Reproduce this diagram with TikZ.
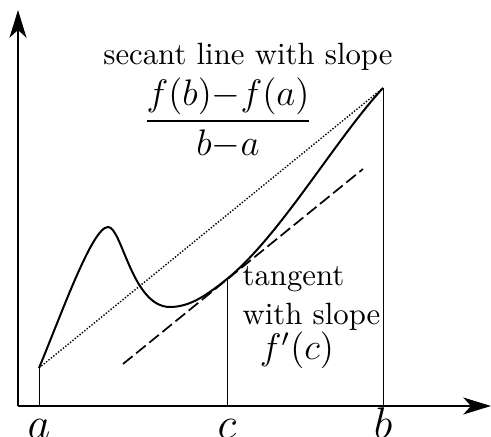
\documentclass[tikz,border=0pt]{standalone}
\usepackage{amsmath}
\usepackage{tikz}
\usetikzlibrary{arrows.meta}

\begin{document}
\begin{tikzpicture}[x=0.325pt, y=-0.325pt]

\tikzset{axis/.style = {-{Stealth[length=9pt,width=5.5pt,inset=2.5pt]}, line width=0.65pt}}
\tikzset{graph/.style = {line width=0.65pt}}
\tikzset{drop/.style = {line width=0.3pt}}
\tikzset{secant/.style = {line width=0.45pt, dash pattern=on 0.45pt off 0.55pt}}
\tikzset{tangentline/.style = {line width=0.55pt, dash pattern=on 4pt off 1.5pt}}
\tikzset{ticklabel/.style = {font=\Large, anchor=base, inner sep=0pt}}

\useasboundingbox (0,0) rectangle (491,437);

% points
\coordinate (O) at (18,406);
\coordinate (ytip) at (18,10);
\coordinate (xtip) at (491,406);
\coordinate (A) at (39,368);
\coordinate (P) at (108,227);
\coordinate (M) at (170,307);
\coordinate (C) at (227,279);
\coordinate (B) at (383,88);
\coordinate (T1) at (123,364);
\coordinate (T2) at (363,169);

% axes
\draw[axis] (O) -- (ytip);
\draw[axis] (O) -- (xtip);

% drop lines
\draw[drop] (A) -- (A |- O);
\draw[drop] (C) -- (C |- O);
\draw[drop] (B) -- (B |- O);

% secant and tangent
\draw[secant] (A) -- (B);
\draw[tangentline] (T1) -- (T2);

% the function
\draw[graph] (A) .. controls (60,318) and (92,227) .. (P)
  .. controls (122,227) and (132,307) .. (M)
  .. controls (190,307) and (207,295) .. (C)
  .. controls (280,236) and (335,140) .. (B);

% labels
\node[ticklabel] (la) at (39,439) {$a$};
\node[ticklabel] (lc) at (227,439) {$c$};
\node[ticklabel] (lb) at (383,439) {$b$};
\node[anchor=base] (sectext) at (248,65) {secant line with slope};
\node[font=\large, inner sep=0pt] (secslope) at (228,118) {$\displaystyle\frac{f(b){-}f(a)}{b{-}a}$};
\node[anchor=base west, inner sep=0pt] (tantext) at (242,286) {tangent};
\node[anchor=base west, inner sep=0pt] (tanwith) at (242,325) {with slope};
\node[anchor=base, font=\large, inner sep=0pt] (tanslope) at (297,360) {$f'(c)$};

\end{tikzpicture}
\end{document}
